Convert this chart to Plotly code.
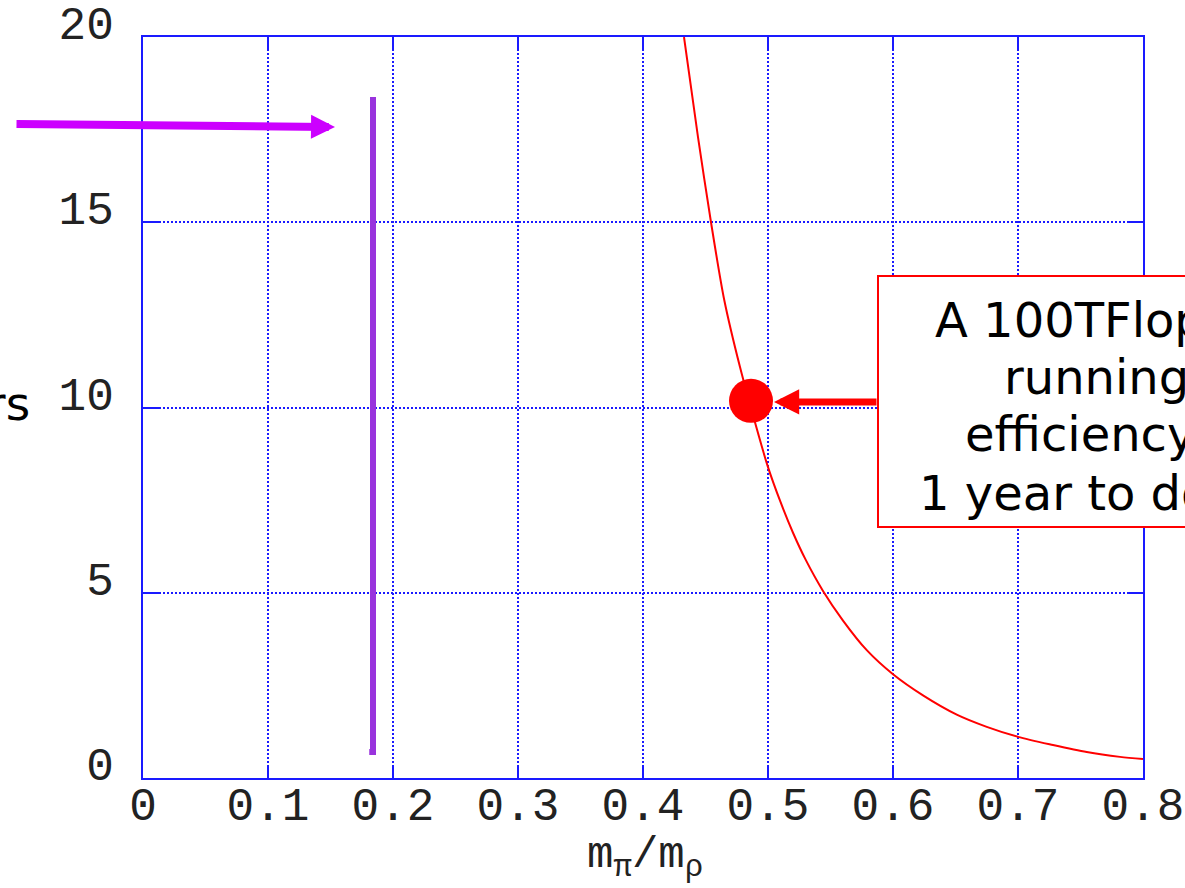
import plotly.graph_objects as go

# ---- data ----
curve_x = [0.4328, 0.444, 0.4544, 0.465, 0.4776, 0.492, 0.500, 0.510, 0.520, 0.530,
           0.544, 0.560, 0.579, 0.600, 0.624, 0.651, 0.675, 0.700, 0.728, 0.755, 0.7816, 0.800]
curve_y = [20.0, 17.3, 15.0, 12.9, 11.09, 9.31, 8.39, 7.45, 6.62, 5.9,
           5.05, 4.25, 3.45, 2.80, 2.23, 1.71, 1.38, 1.11, 0.89, 0.70, 0.57, 0.51]

dot_x = [0.4864]
dot_y = [10.18]

bar_x = [0.181, 0.184, 0.184]
bar_y = [0.70, 0.70, 18.38]

x_ticks = [0, 0.1, 0.2, 0.3, 0.4, 0.5, 0.6, 0.7, 0.8]
y_ticks = [0, 5, 10, 15, 20]

box_lines = ["A 100TFlops machine", "running at", "efficiency", "1 year to do this"]
box_line_x_px = [933, 1002, 963, 917]
box_line_y_px = [320, 377, 434, 493]

y_title = "TFlops years"
x_title = "m<sub>π</sub>/m<sub>ρ</sub>"

# ---- layout geometry ----
W, H = 1185, 888
PL, PR, PT, PB = 143, 1143, 37, 778          # plot area in pixels
L, R, T, B = PL, W - PR, PT, H - PB
PW, PH = PR - PL, PB - PT


def px_to_paper_x(p):
    return (p - PL) / PW


def px_to_paper_y(p):
    return (PB - p) / PH


BLUE = "#1a1aff"
TICKFONT = dict(family="Liberation Mono", size=46, color="#222222")

fig = go.Figure()

fig.add_trace(go.Scatter(x=curve_x, y=curve_y, mode="lines",
                         line=dict(color="#ff0000", width=2, shape="spline", smoothing=0.8),
                         showlegend=False))
fig.add_trace(go.Scatter(x=bar_x, y=bar_y, mode="lines",
                         line=dict(color="#9933dd", width=6), showlegend=False))
fig.add_trace(go.Scatter(x=dot_x, y=dot_y, mode="markers",
                         marker=dict(color="#ff0000", size=44, line=dict(width=0)),
                         showlegend=False, cliponaxis=False))

annotations = []
# purple arrow
annotations.append(dict(x=0.1536, y=17.57, xref="x", yref="y", text="",
                        showarrow=True, ax=-320, ay=-3,
                        arrowhead=2, arrowsize=0.6, arrowwidth=8, arrowcolor="#cc00ff",
                        standoff=0))
# red arrow
annotations.append(dict(x=0.5048, y=10.15, xref="x", yref="y", text="",
                        showarrow=True, ax=104, ay=0,
                        arrowhead=2, arrowsize=0.72, arrowwidth=7, arrowcolor="#ff0000",
                        standoff=0))
# box text lines
for t, xp, yp in zip(box_lines, box_line_x_px, box_line_y_px):
    annotations.append(dict(x=px_to_paper_x(xp), y=px_to_paper_y(yp), xref="paper", yref="paper",
                            text=t, showarrow=False, xanchor="left", yanchor="middle",
                            font=dict(family="DejaVu Sans", size=48, color="#000000")))
# y title (clipped at left edge)
annotations.append(dict(x=px_to_paper_x(32), y=px_to_paper_y(403), xref="paper", yref="paper",
                        text=y_title, showarrow=False, xanchor="right", yanchor="middle",
                        font=dict(family="DejaVu Sans", size=47, color="#000000")))
# x title
annotations.append(dict(x=px_to_paper_x(645), y=px_to_paper_y(858), xref="paper", yref="paper",
                        text=x_title, showarrow=False, xanchor="center", yanchor="middle",
                        font=dict(family="Liberation Mono", size=44, color="#222222")))

shapes = [dict(type="rect", xref="paper", yref="paper",
               x0=px_to_paper_x(878), x1=px_to_paper_x(1400),
               y0=px_to_paper_y(527), y1=px_to_paper_y(276),
               line=dict(color="#ff0000", width=2), fillcolor="#ffffff", layer="above")]

fig.update_layout(
    width=W, height=H,
    margin=dict(l=L, r=R, t=T, b=B, pad=0, autoexpand=False),
    paper_bgcolor="#ffffff", plot_bgcolor="#ffffff",
    showlegend=False,
    annotations=annotations,
    shapes=shapes,
)

fig.update_xaxes(range=[0, 0.8], tickvals=x_ticks, ticktext=[("%g" % v) for v in x_ticks],
                 showline=True, linecolor=BLUE, linewidth=2, mirror="ticks",
                 ticks="inside", ticklen=13, tickwidth=2, tickcolor=BLUE,
                 showgrid=True, gridcolor=BLUE, gridwidth=1.5, griddash="2px,2px",
                 zeroline=False, tickfont=TICKFONT, ticklabelstandoff=-15,
                 ticklabeloverflow="allow", automargin=False)
fig.update_yaxes(range=[0, 20], tickvals=y_ticks, ticktext=[str(v) for v in y_ticks],
                 showline=True, linecolor=BLUE, linewidth=2, mirror="ticks",
                 ticks="inside", ticklen=16, tickwidth=2, tickcolor=BLUE,
                 showgrid=True, gridcolor=BLUE, gridwidth=1.5, griddash="2px,2px",
                 zeroline=False, tickfont=TICKFONT, ticklabelstandoff=18, ticklabelshift=-14,
                 ticklabeloverflow="allow", automargin=False)

fig.write_html("out.html", config={"displayModeBar": False},
               post_script="document.body.style.margin='0px';")
